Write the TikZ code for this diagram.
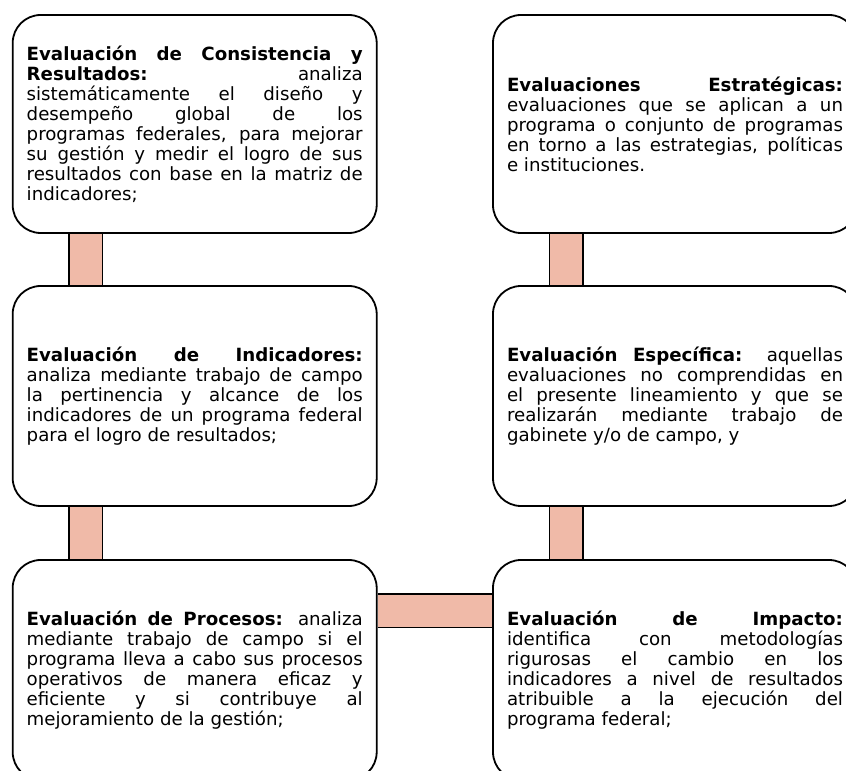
\documentclass[tikz,border=0pt]{standalone}
\usepackage{fontspec}
\setmainfont{DejaVu Sans}
\usepackage{xcolor}
\usepackage{tikz}
\usetikzlibrary{calc, backgrounds}
\definecolor{linkfill}{RGB}{240, 186, 168}
\tikzstyle{evalbox} = [rectangle, rounded corners=28pt, draw=black, line width=1.8pt, fill=white, inner sep=0pt, minimum width=364pt, minimum height=218pt, text width=336pt, align=justify, font=\fontsize{18.2}{20}\selectfont]
\tikzstyle{link} = [line width=1.5pt, draw=black, double=linkfill, double distance=32pt]
\tolerance=10000
\hbadness=10000
\hyphenpenalty=10000
\exhyphenpenalty=10000
\begin{document}
\begin{tikzpicture}[x=1pt, y=1pt]
    \useasboundingbox (0, 0) rectangle (846, 771);

    \node[evalbox] (ecr) at (194.7, 647) {
        \textbf{Evaluación de Consistencia y\linebreak Resultados:} analiza\linebreak
        sistemáticamente el diseño y\linebreak
        desempeño global de los\linebreak
        programas federales, para mejorar\linebreak
        su gestión y medir el logro de sus\linebreak
        resultados con base en la matriz de\linebreak
        indicadores;
    };

    \node[evalbox] (est) at (675, 647) {
        \textbf{Evaluaciones Estratégicas:}\linebreak
        evaluaciones que se aplican a un\linebreak
        programa o conjunto de programas\linebreak
        en torno a las estrategias, políticas\linebreak
        e instituciones.
    };

    \node[evalbox, minimum height=220pt] (ind) at (194.7, 375) {
        \textbf{Evaluación de Indicadores:}\linebreak
        analiza mediante trabajo de campo\linebreak
        la pertinencia y alcance de los\linebreak
        indicadores de un programa federal\linebreak
        para el logro de resultados;
    };

    \node[evalbox, minimum height=220pt] (esp) at (675, 375) {
        \textbf{Evaluación Específica:} aquellas\linebreak
        evaluaciones no comprendidas en\linebreak
        el presente lineamiento y que se\linebreak
        realizarán mediante trabajo de\linebreak
        gabinete y/o de campo, y
    };

    \node[evalbox, minimum height=220pt] (pro) at (194.7, 101) {
        \textbf{Evaluación de Procesos:} analiza\linebreak
        mediante trabajo de campo si el\linebreak
        programa lleva a cabo sus procesos\linebreak
        operativos de manera eficaz y\linebreak
        eficiente y si contribuye al\linebreak
        mejoramiento de la gestión;
    };

    \node[evalbox, minimum height=220pt] (imp) at (675, 101) {
        \textbf{Evaluación de Impacto:}\linebreak
        identifica con metodologías\linebreak
        rigurosas el cambio en los\linebreak
        indicadores a nivel de resultados\linebreak
        atribuible a la ejecución del\linebreak
        programa federal;
    };

    % Links
    \begin{scope}[on background layer]
        \draw[link] ($(ecr.south west)+(74, 0)$) -- ($(ind.north west)+(74, 0)$);
        \draw[link] ($(ind.south west)+(74, 0)$) -- ($(pro.north west)+(74, 0)$);
        \draw[link] ($(est.south west)+(74, 0)$) -- ($(esp.north west)+(74, 0)$);
        \draw[link] ($(esp.south west)+(74, 0)$) -- ($(imp.north west)+(74, 0)$);
        \draw[link] ($(pro.east)+(0, 59)$) -- ($(imp.west)+(0, 59)$);
    \end{scope}
\end{tikzpicture}
\end{document}
